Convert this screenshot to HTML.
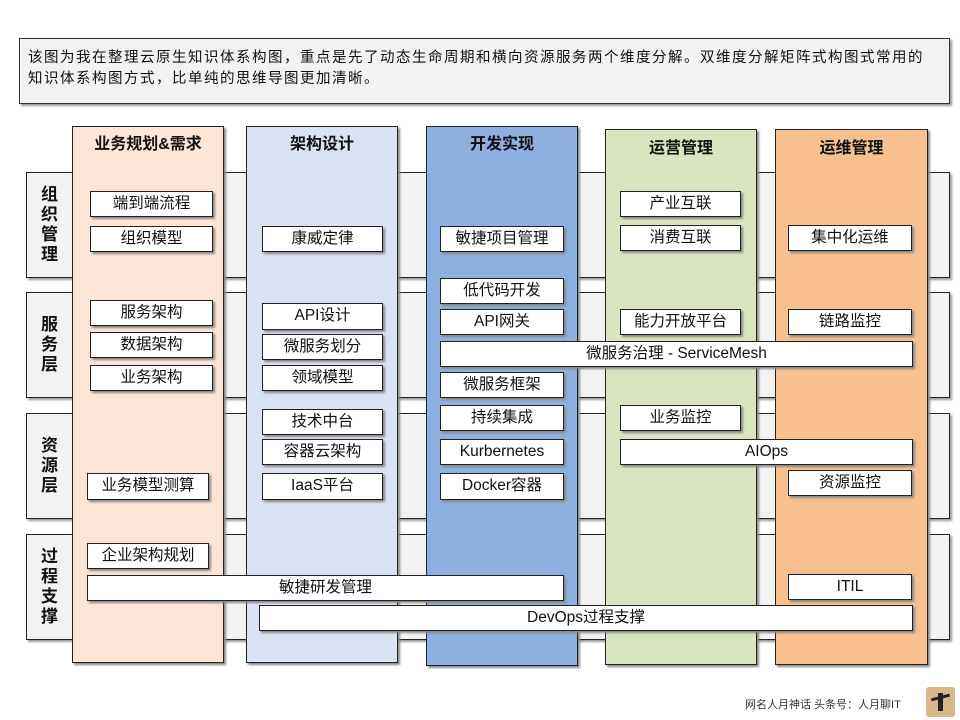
<!DOCTYPE html>
<html><head><meta charset="utf-8"><style>
body{margin:0;width:960px;height:720px;background:#fff;position:relative;overflow:hidden;font-family:"Liberation Sans","Noto Sans CJK SC",sans-serif;color:#111}
div{position:absolute;box-sizing:border-box}
.band{background:#f2f2f2;border:1px solid #222;box-shadow:2px 2px 2px #999;left:26px;width:924px;height:106px}
.rl{left:26px;width:47px;font-size:17px;font-weight:bold;text-align:center;line-height:20px;display:flex;align-items:center;justify-content:center}
.col{border:1px solid #222;box-shadow:2px 2px 2px #888;top:126px}
.h{font-size:16px;font-weight:bold;text-align:center;width:100%;top:3px}
.b{background:#fff;border:1px solid #222;box-shadow:2px 2px 2px #888;font-size:15.5px;text-align:center;height:26px;line-height:24px}
</style></head><body>
<div style="left:19px;top:38px;width:931px;height:66px;background:#f2f2f2;border:1px solid #333;box-shadow:2px 2px 2px #999;font-size:14.5px;line-height:21px;padding:9px 8px;white-space:nowrap;letter-spacing:1.5px">该图为我在整理云原生知识体系构图，重点是先了动态生命周期和横向资源服务两个维度分解。双维度分解矩阵式构图式常用的<br>知识体系构图方式，比单纯的思维导图更加清晰。</div>

<div class="band" style="top:172px"></div>
<div class="band" style="top:292px"></div>
<div class="band" style="top:413px"></div>
<div class="band" style="top:534px"></div>
<div class="rl" style="top:172px;height:106px">组<br>织<br>管<br>理</div>
<div class="rl" style="top:292px;height:106px">服<br>务<br>层</div>
<div class="rl" style="top:413px;height:106px">资<br>源<br>层</div>
<div class="rl" style="top:534px;height:106px">过<br>程<br>支<br>撑</div>

<div class="col" style="left:72px;width:152px;height:537px;background:#fbe5d6"><div class="h" style="top:3px">业务规划&amp;需求</div></div>
<div class="col" style="left:246px;width:152px;height:537px;background:#dae3f3"><div class="h" style="top:3px">架构设计</div></div>
<div class="col" style="left:426px;width:152px;height:540px;background:#8eb0e0"><div class="h" style="top:3px">开发实现</div></div>
<div class="col" style="left:605px;width:152px;height:536px;top:129px;background:#d9e5c1"><div class="h" style="top:4px">运营管理</div></div>
<div class="col" style="left:775px;width:153px;height:536px;top:129px;background:#f8bf8f"><div class="h" style="top:4px">运维管理</div></div>

<div class="b" style="left:90px;top:191px;width:123px">端到端流程</div>
<div class="b" style="left:90px;top:226px;width:123px">组织模型</div>
<div class="b" style="left:262px;top:226px;width:121px">康威定律</div>
<div class="b" style="left:440px;top:226px;width:124px">敏捷项目管理</div>
<div class="b" style="left:620px;top:191px;width:121px">产业互联</div>
<div class="b" style="left:620px;top:225px;width:121px">消费互联</div>
<div class="b" style="left:788px;top:225px;width:124px">集中化运维</div>

<div class="b" style="left:90px;top:300px;width:123px">服务架构</div>
<div class="b" style="left:90px;top:332px;width:123px">数据架构</div>
<div class="b" style="left:90px;top:365px;width:123px">业务架构</div>
<div class="b" style="left:262px;top:303px;width:121px;height:27px">API设计</div>
<div class="b" style="left:262px;top:334px;width:121px">微服务划分</div>
<div class="b" style="left:262px;top:365px;width:121px">领域模型</div>
<div class="b" style="left:440px;top:278px;width:124px">低代码开发</div>
<div class="b" style="left:440px;top:309px;width:124px">API网关</div>
<div class="b" style="left:620px;top:309px;width:121px">能力开放平台</div>
<div class="b" style="left:788px;top:309px;width:124px">链路监控</div>
<div class="b" style="left:440px;top:341px;width:473px">微服务治理 - ServiceMesh</div>
<div class="b" style="left:440px;top:372px;width:124px">微服务框架</div>
<div class="b" style="left:440px;top:405px;width:124px">持续集成</div>
<div class="b" style="left:440px;top:439px;width:124px">Kurbernetes</div>
<div class="b" style="left:440px;top:473px;width:124px;height:27px">Docker容器</div>
<div class="b" style="left:262px;top:409px;width:121px">技术中台</div>
<div class="b" style="left:262px;top:439px;width:121px">容器云架构</div>
<div class="b" style="left:262px;top:473px;width:121px;height:27px">IaaS平台</div>
<div class="b" style="left:87px;top:473px;width:122px;height:27px">业务模型测算</div>
<div class="b" style="left:620px;top:405px;width:121px">业务监控</div>
<div class="b" style="left:620px;top:439px;width:293px">AIOps</div>
<div class="b" style="left:788px;top:470px;width:124px">资源监控</div>

<div class="b" style="left:87px;top:543px;width:122px">企业架构规划</div>
<div class="b" style="left:87px;top:575px;width:477px">敏捷研发管理</div>
<div class="b" style="left:788px;top:574px;width:124px">ITIL</div>
<div class="b" style="left:259px;top:605px;width:654px">DevOps过程支撑</div>

<div style="left:745px;top:696px;font-size:11px;color:#333;white-space:nowrap">网名人月神话 头条号：人月聊IT</div>
<div style="left:926px;top:687px;width:29px;height:30px;background:#d8b88a;border-radius:3px"><div style="left:12px;top:6px;width:5px;height:18px;background:#222"></div><div style="left:5px;top:9px;width:19px;height:3px;background:#222;transform:rotate(-15deg)"></div></div>
</body></html>
